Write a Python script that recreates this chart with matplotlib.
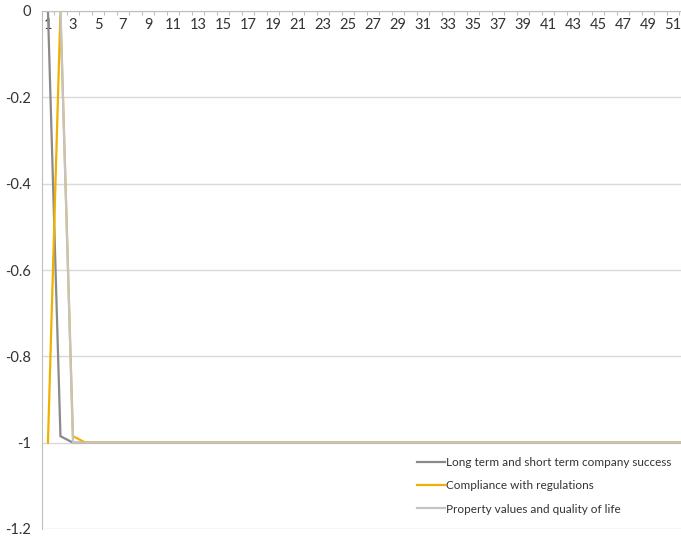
import matplotlib
matplotlib.use("Agg")
import matplotlib.pyplot as plt
from matplotlib.ticker import FixedLocator, FixedFormatter

# Categories along the x axis
categories = list(range(1, 53))
n = len(categories)

# Series values (first few points drop to -1 and stay there)
long_short_success = [0, -0.985, -1] + [-1] * (n - 3)
compliance = [-1, 0, -0.985, -1] + [-1] * (n - 4)
property_quality = [0, 0, -1] + [-1] * (n - 3)

series_names = [
    "Long term and short term company success",
    "Compliance with regulations",
    "Property values and quality of life",
]
series_colors = ["#8a8a8a", "#f0b000", "#c4c4c4"]

y_ticks = [0, -0.2, -0.4, -0.6, -0.8, -1, -1.2]
y_tick_labels = ["0", "-0.2", "-0.4", "-0.6", "-0.8", "-1", "-1.2"]
x_label_cats = [c for c in categories if c % 2 == 1]

plt.rcParams["font.family"] = ["Lato", "DejaVu Sans"]

W, H = 681, 541
fig = plt.figure(figsize=(W / 100, H / 100), dpi=100)

left_px, top_px, bottom_px = 41.7, 11, 529
cat_w = 12.5
width_px = cat_w * n
ax = fig.add_axes([left_px / W, (H - bottom_px) / H, width_px / W, (bottom_px - top_px) / H])

for vals, name, col in zip([long_short_success, compliance, property_quality], series_names, series_colors):
    ax.plot(categories, vals, color=col, lw=1.6, label=name, solid_joinstyle="miter", zorder=3)

ax.set_xlim(0.5, n + 0.5)
ax.set_ylim(-1.2, 0)

# Horizontal gridlines
ax.set_yticks(y_ticks)
ax.set_yticklabels(y_tick_labels)
ax.yaxis.grid(True, color="#d9d9d9", lw=1.0, zorder=0)
ax.tick_params(axis="y", length=0, pad=8, labelsize=10.5, labelcolor="#333333")

# Category axis sits at y = 0, labels below it
for s in ["top", "right"]:
    ax.spines[s].set_visible(False)
ax.spines["bottom"].set_position(("data", 0))
ax.spines["bottom"].set_color("#bfbfbf")
ax.spines["bottom"].set_zorder(2)
ax.spines["left"].set_color("#bfbfbf")

ax.xaxis.set_major_locator(FixedLocator(x_label_cats))
ax.xaxis.set_major_formatter(FixedFormatter([str(c) for c in x_label_cats]))
ax.xaxis.set_minor_locator(FixedLocator([c + 0.5 for c in range(0, n + 1)]))
ax.tick_params(axis="x", which="major", length=0, pad=5, labelsize=10.5, labelcolor="#333333")
ax.tick_params(axis="x", which="minor", length=3, width=0.8, color="#bfbfbf", direction="out")

leg = ax.legend(
    loc="upper left",
    bbox_to_anchor=(412 / W, (H - 452) / H),
    bbox_transform=fig.transFigure,
    frameon=True,
    facecolor="white",
    edgecolor="none",
    framealpha=1,
    fancybox=False,
    fontsize=8.5,
    handlelength=2.4,
    handletextpad=0.1,
    labelspacing=1.05,
    borderaxespad=0,
)
for t in leg.get_texts():
    t.set_color("#333333")
leg.set_zorder(5)

fig.savefig("out.png", dpi=100)
